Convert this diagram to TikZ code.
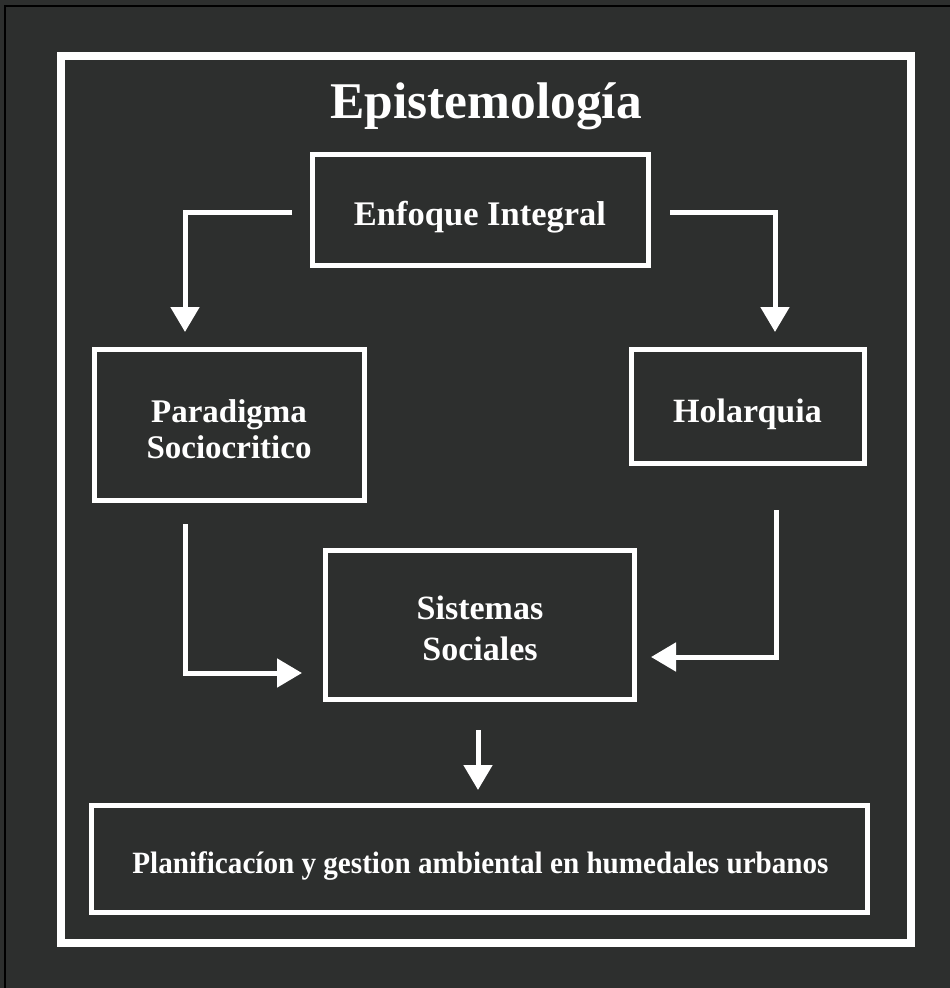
\documentclass[tikz,border=0pt]{standalone}
\usepackage{fontspec}
\setmainfont{Liberation Serif}
\newfontfamily\condfont[FakeStretch=0.94]{Liberation Serif}
\usetikzlibrary{arrows.meta}
\definecolor{bgdark}{HTML}{2D2F2E}
\tikzset{
  boxst/.style={draw=white, line width=5pt, inner sep=0pt, outer sep=0pt},
  txt/.style={text=white, inner sep=0pt, outer sep=0pt, align=center},
  arr/.style={draw=white, line width=5pt, -{Triangle[width=28pt,length=25pt]}},
}
\begin{document}
\begin{tikzpicture}[x=1pt, y=-1pt]
\useasboundingbox (0,0) rectangle (950,988);
\fill[bgdark] (0,0) rectangle (950,988);
\draw[black, line width=1.5pt] (5,988) -- (5,6) -- (950,6);
% outer frame
\draw[white, line width=8pt] (61,56) rectangle (911,943);
% title
\node[txt, anchor=base, font=\bfseries\fontsize{51.5}{56}\selectfont] (title) at (486,118) {Epistemología};
% boxes
\node[boxst, minimum width=336pt, minimum height=111pt] (enf) at (480,209.5) {};
\node[boxst, minimum width=270pt, minimum height=151pt] (par) at (229,424.5) {};
\node[boxst, minimum width=233pt, minimum height=114pt] (hol) at (747.5,406) {};
\node[boxst, minimum width=309pt, minimum height=149pt] (sis) at (479.5,624.5) {};
\node[boxst, minimum width=776pt, minimum height=107pt] (pla) at (479,858.5) {};
% texts
\node[txt, anchor=base, font=\bfseries\fontsize{34.5}{36}\selectfont] (enft) at (480,225) {Enfoque Integral};
\node[txt, anchor=base, font=\bfseries\fontsize{33}{36}\selectfont] (part1) at (229,422) {Paradigma};
\node[txt, anchor=base, font=\bfseries\fontsize{33}{36}\selectfont] (part2) at (229,458) {Sociocritico};
\node[txt, anchor=base, font=\bfseries\fontsize{34}{36}\selectfont] (holt) at (747.5,422) {Holarquia};
\node[txt, anchor=base, font=\bfseries\fontsize{34}{36}\selectfont] (sist1) at (480,619) {Sistemas};
\node[txt, anchor=base, font=\bfseries\fontsize{34}{36}\selectfont] (sist2) at (480,660) {Sociales};
\node[txt, anchor=base, font=\condfont\bfseries\fontsize{31}{34}\selectfont] (plat) at (480.5,873) {Planificacíon y gestion ambiental en humedales urbanos};
% connectors
\draw[arr, shorten <=20pt, shorten >=17pt] ([yshift=-2.5pt]enf.west) -| ([xshift=-44pt]par.north);
\draw[arr, shorten <=22pt, shorten >=17pt] ([yshift=-2.5pt]enf.east) -| ([xshift=27.5pt]hol.north);
\draw[arr, shorten <=24pt, shorten >=23pt] ([xshift=-44pt]par.south) |- ([yshift=-48.5pt]sis.west);
\draw[arr, shorten <=47pt, shorten >=17pt] ([xshift=28.5pt]hol.south) |- ([yshift=-32.5pt]sis.east);
\draw[arr, shorten <=31pt, shorten >=15pt] ([xshift=-1.5pt]sis.south) -- ([xshift=-1pt]pla.north);
\end{tikzpicture}
\end{document}
